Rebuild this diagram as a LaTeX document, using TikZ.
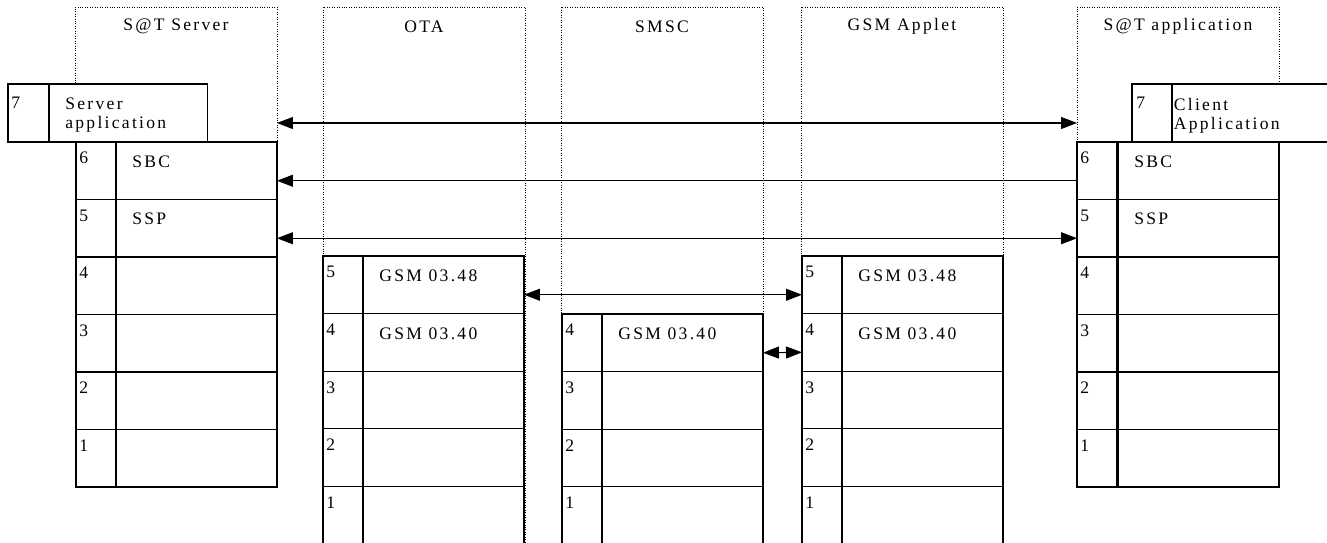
\documentclass[tikz,border=0pt]{standalone}
\usepackage{fontspec}
\setmainfont{Liberation Serif}
\newfontfamily\spaced[LetterSpace=13]{Liberation Serif}
\usetikzlibrary{arrows.meta,positioning}

\begin{document}
\begin{tikzpicture}[x=0.02cm, y=-0.02cm,
    font=\fontsize{10}{10.8}\selectfont,
    >={Triangle[length=3.2mm,width=2.4mm]},
    column/.style={draw, densely dotted, line width=0.4pt, anchor=north west, minimum width=4.04cm, inner sep=0pt, outer sep=0pt},
    title/.style={anchor=center, yshift=-3.9mm, font=\fontsize{10}{10.8}\selectfont\spaced},
    num/.style={draw, fill=white, line width=0.6pt, anchor=north west, minimum width=0.8cm, minimum height=1.15cm, inner sep=0pt, outer sep=0pt},
    cell/.style={draw, fill=white, line width=0.6pt, anchor=north west, minimum width=3.22cm, minimum height=1.15cm, inner sep=0pt, outer sep=0pt},
    digit/.style={anchor=north west, inner sep=0pt, xshift=0.6mm, yshift=-2mm},
    txt/.style={anchor=north west, inner sep=0pt, xshift=3.2mm, yshift=-2.7mm, align=left, font=\fontsize{10}{10.8}\selectfont\spaced},
]
    \useasboundingbox (0,0) rectangle (1327,543);
    \clip (0,0) rectangle (1327,543);

    % entity columns
    \node[column, minimum height=9.6cm, label={[title]north:S@T Server}] (srv) at (75,7) {};
    \node[column, minimum height=11.1cm, label={[title]north:OTA}] (ota) at (323,7) {};
    \node[column, minimum height=11.1cm, label={[title]north:SMSC}] (smsc) at (561,7) {};
    \node[column, minimum height=11.1cm, label={[title]north:GSM Applet}] (app) at (801,7) {};
    \node[column, minimum height=9.6cm, label={[title]north:S@T application}] (sap) at (1077,7) {};

    % layer 7
    \node[num, minimum width=0.82cm, minimum height=1.16cm, label={[digit, yshift=-0.5mm]north west:7}] (srvn7) at (8,84) {};
    \node[cell, minimum width=3.18cm, minimum height=1.16cm, label={[txt]north west:Server\\application}] (srv7) at (49,84) {};
    \node[num, minimum height=1.16cm, label={[digit, xshift=0.2mm, yshift=-0.5mm]north west:7}] (sapn7) at (1132,84) {};
    \node[cell, minimum width=3.6cm, minimum height=1.16cm, label={[txt, xshift=-2.9mm]north west:Client\\Application}] (sap7) at (1172,84) {};

    % layer stacks
    \foreach \n/\t [count=\i from 0] in {6/SBC,5/SSP,4/,3/,2/,1/} {
        \node[num, label={[digit]north west:\n}] (srvn\n) at (76,{142+57.5*\i}) {};
        \node[cell, label={[txt]north west:\t}] (srv\n) at (116,{142+57.5*\i}) {};
        \node[num, label={[digit]north west:\n}] (sapn\n) at (1077,{142+57.5*\i}) {};
        \node[cell, label={[txt]north west:\t}] (sap\n) at (1118,{142+57.5*\i}) {};
    }
    \foreach \n/\t [count=\i from 0] in {5/GSM 03.48,4/GSM 03.40,3/,2/,1/} {
        \node[num, label={[digit]north west:\n}] (otan\n) at (323,{256+57.6*\i}) {};
        \node[cell, label={[txt]north west:\t}] (ota\n) at (363,{256+57.6*\i}) {};
        \node[num, label={[digit]north west:\n}] (appn\n) at (802,{256+57.6*\i}) {};
        \node[cell, label={[txt]north west:\t}] (app\n) at (842,{256+57.6*\i}) {};
    }
    \foreach \n/\t [count=\i from 0] in {4/GSM 03.40,3/,2/,1/} {
        \node[num, label={[digit]north west:\n}] (smscn\n) at (562,{314+57.6*\i}) {};
        \node[cell, label={[txt]north west:\t}] (smsc\n) at (602,{314+57.6*\i}) {};
    }

    % peer links
    \coordinate (a7) at ([yshift=-2mm]srv7.east);
    \draw[<->, line width=0.6pt] (srv.east |- a7) -- (sap.west |- a7);
    \draw[<-, line width=0.6pt] ([yshift=-2mm]srv6.east) -- ([yshift=-2mm]sapn6.west);
    \draw[<->, line width=0.6pt] ([yshift=-2mm]srv5.east) -- ([yshift=-2mm]sapn5.west);
    \draw[<->, line width=0.6pt] ([yshift=-2mm]ota5.east) -- ([yshift=-2mm]appn5.west);
    \draw[<->, line width=0.6pt] ([yshift=-2mm]smsc4.east) -- ([yshift=-2mm]appn4.west);
\end{tikzpicture}
\end{document}
